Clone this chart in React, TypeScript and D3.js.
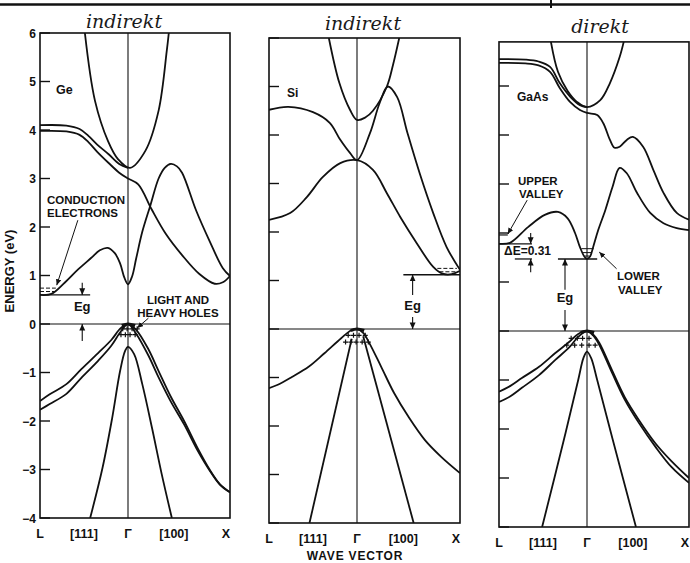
import React from "react";
import * as d3 from "d3";

type Pt = [number, number]; // [k, E]  k: -1 = L, 0 = Γ, 1 = X ; E in eV

const energyTicks = [-4, -3, -2, -1, 0, 1, 2, 3, 4, 5, 6];
const kLabels = ["L", "[111]", "Γ", "[100]", "X"];
const kLabelPos = [-1, -0.5, 0, 0.45, 0.96];

// ---------- Ge ----------
const geGamma2: Pt[] = [[-0.49, 6], [-0.375, 4.6], [-0.227, 3.77], [-0.114, 3.4], [0.02, 3.22], [0.17, 3.57], [0.3, 4.4], [0.38, 5.63], [0.4, 6]];
const geUpperA: Pt[] = [[-1, 4.1], [-0.7, 4.09], [-0.55, 4.02], [-0.45, 3.88], [-0.35, 3.7], [-0.22, 3.5], [-0.1, 3.3], [0, 3.22]];
const geUpperB: Pt[] = [[-1, 3.98], [-0.7, 3.97], [-0.55, 3.9], [-0.45, 3.75], [-0.35, 3.55], [-0.22, 3.32], [-0.1, 3.12], [0, 3.0], [0.1, 2.88], [0.23, 2.37], [0.37, 1.86], [0.53, 1.42], [0.7, 1.03], [0.85, 0.83], [0.93, 0.86], [1, 0.99]];
const geCond: Pt[] = [[-1, 0.6], [-0.87, 0.62], [-0.72, 0.85], [-0.57, 1.12], [-0.42, 1.36], [-0.32, 1.52], [-0.23, 1.57], [-0.15, 1.46], [-0.09, 1.25], [-0.04, 0.95], [0, 0.82], [0.04, 0.98], [0.08, 1.35], [0.14, 1.9], [0.22, 2.45], [0.3, 3.0], [0.36, 3.22], [0.42, 3.3], [0.48, 3.25], [0.53, 3.12], [0.67, 2.33], [0.8, 1.71], [0.93, 1.15], [1, 0.99]];
const geHeavy: Pt[] = [[-1, -1.59], [-0.89, -1.45], [-0.7, -1.24], [-0.53, -0.93], [-0.34, -0.6], [-0.19, -0.33], [-0.08, -0.08], [0, 0], [0.08, -0.12], [0.2, -0.52], [0.3, -0.97], [0.42, -1.5], [0.55, -2.0], [0.68, -2.55], [0.8, -3.0], [0.9, -3.3], [1, -3.47]];
const geLight: Pt[] = [[-1, -1.77], [-0.89, -1.65], [-0.7, -1.44], [-0.53, -1.11], [-0.34, -0.76], [-0.19, -0.45], [-0.08, -0.15], [0, 0], [0.08, -0.2], [0.2, -0.65], [0.3, -1.1], [0.42, -1.6], [0.55, -2.07], [0.68, -2.6], [0.8, -3.02], [0.9, -3.31], [1, -3.47]];
const geSplitOff: Pt[] = [[-0.43, -4], [-0.29, -2.97], [-0.18, -1.94], [-0.09, -0.97], [-0.034, -0.56], [0, -0.47], [0.06, -0.62], [0.14, -1.24], [0.235, -2.14], [0.33, -3.09], [0.43, -4]];
const geHoles: Pt[] = [[-0.06, -0.1], [-0.01, -0.1], [0.04, -0.1], [0.09, -0.1], [-0.08, -0.22], [-0.03, -0.22], [0.02, -0.22], [0.07, -0.22]];

// ---------- Si ----------
const siGamma15: Pt[] = [[-0.32, 6], [-0.2, 5.07], [-0.08, 4.52], [0, 4.31], [0.08, 4.36], [0.155, 4.5], [0.29, 5.0], [0.35, 5.45], [0.41, 6]];
const siUpper: Pt[] = [[-1, 4.52], [-0.78, 4.58], [-0.5, 4.47], [-0.31, 4.25], [-0.19, 3.9], [-0.08, 3.63], [0, 3.48], [0.126, 4.04], [0.22, 4.66], [0.3, 5.0], [0.39, 4.78], [0.49, 4.04], [0.61, 3.2], [0.74, 2.39], [0.87, 1.69], [1, 1.22]];
const siLower: Pt[] = [[-1, 2.25], [-0.76, 2.39], [-0.57, 2.72], [-0.39, 3.13], [-0.19, 3.42], [0, 3.48], [0.155, 3.28], [0.29, 2.8], [0.42, 2.31], [0.58, 1.77], [0.74, 1.28], [0.83, 1.14], [0.92, 1.13], [1, 1.2]];
const siHeavy: Pt[] = [[-1, -1.22], [-0.9, -1.15], [-0.74, -0.99], [-0.55, -0.78], [-0.37, -0.5], [-0.18, -0.19], [-0.07, -0.03], [0, 0], [0.06, -0.08], [0.12, -0.29], [0.235, -0.78], [0.36, -1.32], [0.5, -1.81], [0.66, -2.29], [0.82, -2.64], [1, -2.97]];
const siLightLeft: Pt[] = [[-0.06, -0.2], [-0.54, -4]];
const siLightRight: Pt[] = [[0.06, -0.15], [0.55, -4]];
const siHoles: Pt[] = [[-0.1, -0.13], [-0.04, -0.13], [0.02, -0.13], [0.08, -0.13], [-0.13, -0.27], [-0.07, -0.27], [-0.01, -0.27], [0.05, -0.27], [0.11, -0.27]];

// ---------- GaAs ----------
const gaasGamma: Pt[] = [[-0.41, 5.9], [-0.33, 5.29], [-0.22, 4.9], [-0.11, 4.67], [0, 4.57], [0.13, 4.71], [0.225, 5.06], [0.32, 5.59], [0.36, 5.9]];
const gaasUpperA: Pt[] = [[-1, 5.55], [-0.7, 5.54], [-0.55, 5.5], [-0.42, 5.39], [-0.31, 5.06], [-0.19, 4.78], [-0.08, 4.61], [0, 4.57]];
const gaasUpperB: Pt[] = [[-1, 5.47], [-0.7, 5.46], [-0.55, 5.42], [-0.42, 5.29], [-0.31, 4.96], [-0.19, 4.67], [-0.08, 4.51], [0, 4.45], [0.1, 4.41], [0.16, 4.24], [0.225, 3.9], [0.27, 3.74], [0.32, 3.76], [0.39, 3.9], [0.45, 3.96], [0.55, 3.76], [0.65, 3.29], [0.75, 2.82], [0.88, 2.41], [1, 2.27]];
const gaasCond: Pt[] = [[-1, 1.78], [-0.875, 1.8], [-0.67, 2.12], [-0.48, 2.37], [-0.33, 2.43], [-0.22, 2.3], [-0.136, 2.0], [-0.08, 1.71], [-0.03, 1.52], [0, 1.47], [0.03, 1.52], [0.06, 1.71], [0.11, 2.06], [0.18, 2.47], [0.25, 2.94], [0.32, 3.33], [0.39, 3.22], [0.49, 2.82], [0.62, 2.41], [0.75, 2.2], [0.88, 2.1], [1, 2.06]];
const gaasHeavy: Pt[] = [[-1, -1.24], [-0.87, -1.12], [-0.74, -0.96], [-0.545, -0.73], [-0.36, -0.45], [-0.2, -0.22], [-0.1, -0.06], [0, 0], [0.06, -0.07], [0.12, -0.24], [0.245, -0.8], [0.37, -1.35], [0.51, -1.82], [0.67, -2.29], [0.83, -2.66], [1, -3.0]];
const gaasLight: Pt[] = [[-1, -1.45], [-0.87, -1.33], [-0.74, -1.16], [-0.545, -0.9], [-0.36, -0.59], [-0.2, -0.33], [-0.1, -0.12], [0, 0], [0.06, -0.09], [0.12, -0.28], [0.245, -0.85], [0.37, -1.4], [0.51, -1.88], [0.67, -2.36], [0.83, -2.78], [1, -3.1]];
const gaasSplitOff: Pt[] = [[-0.51, -4], [-0.26, -2.2], [-0.1, -1.0], [-0.04, -0.55], [0, -0.42], [0.04, -0.55], [0.1, -1.0], [0.25, -2.2], [0.48, -4]];
const gaasHoles: Pt[] = [[-0.18, -0.15], [-0.11, -0.15], [-0.05, -0.15], [0.02, -0.15], [-0.23, -0.29], [-0.14, -0.29], [-0.06, -0.29], [0.02, -0.29], [0.08, -0.29]];

const panels = [
  { id: "ge", x: [40, 128, 230], y: [518, 33], top: 6, note: "indirekt", noteX: 124, noteY: 28,
    bands: [geGamma2, geUpperA, geUpperB, geCond, geHeavy, geLight, geSplitOff], holes: geHoles, numbers: true },
  { id: "si", x: [269, 357, 460], y: [523, 38], top: 6, note: "indirekt", noteX: 363, noteY: 30,
    bands: [siGamma15, siUpper, siLower, siHeavy, siLightLeft, siLightRight], holes: siHoles, numbers: false },
  { id: "gaas", x: [499, 587, 689], y: [527, 37], top: 5.9, note: "direkt", noteX: 600, noteY: 33,
    bands: [gaasGamma, gaasUpperA, gaasUpperB, gaasCond, gaasHeavy, gaasLight, gaasSplitOff], holes: gaasHoles, numbers: false },
];

const FONT = "'Liberation Sans', Arial, sans-serif";

const Arrow = ({ x, y1, y2 }: { x: number; y1: number; y2: number }) => (
  <line x1={x} x2={x} y1={y1} y2={y2} stroke="#111" strokeWidth={1.1} markerEnd="url(#ah)" />
);

const Panel = ({ p }: { p: (typeof panels)[number] }) => {
  const xs = d3.scaleLinear().domain([-1, 0, 1]).range(p.x);
  const ys = d3.scaleLinear().domain([-4, 6]).range(p.y);
  const line = d3.line<Pt>().x((d) => xs(d[0])).y((d) => ys(d[1])).curve(d3.curveCatmullRom.alpha(0.5));
  const x0 = xs(-1), x1 = xs(1), yTop = ys(p.top), yBot = ys(-4);
  const clipId = `clip-${p.id}`;
  return (
    <g>
      <clipPath id={clipId}>
        <rect x={x0} y={yTop} width={x1 - x0} height={yBot - yTop} />
      </clipPath>
      <text x={p.noteX} y={p.noteY} textAnchor="middle" fontFamily="'DejaVu Serif', serif" fontStyle="italic" fontSize={19} fill="#1a1a1a">{p.note}</text>
      <rect x={x0} y={yTop} width={x1 - x0} height={yBot - yTop} fill="none" stroke="#111" strokeWidth={1.6} />
      <line x1={xs(0)} x2={xs(0)} y1={yTop} y2={yBot} stroke="#111" strokeWidth={1.1} />
      <line x1={x0} x2={x1} y1={ys(0)} y2={ys(0)} stroke="#111" strokeWidth={1.2} />
      {energyTicks.filter((e) => e <= p.top).map((e) => (
        <line key={e} x1={x0} x2={x0 + 10} y1={ys(e)} y2={ys(e)} stroke="#111" strokeWidth={1.4} />
      ))}
      {p.numbers && energyTicks.map((e) => (
        <text key={"n" + e} x={x0 - 4} y={ys(e) + 4.5} textAnchor="end" fontFamily={FONT} fontWeight="bold" fontSize={12} fill="#111">
          {e < 0 ? `−${-e}` : e}
        </text>
      ))}
      <g clipPath={`url(#${clipId})`} fill="none" stroke="#111" strokeWidth={1.8}>
        {p.bands.map((b, i) => <path key={i} d={line(b) ?? ""} />)}
        <path d={line([[-0.07, -0.03], [0, 0], [0.07, -0.03]]) ?? ""} strokeWidth={3.2} />
      </g>
      <g stroke="#111" strokeWidth={1.2}>
        {p.holes.map((h, i) => {
          const cx = xs(h[0]), cy = ys(h[1]);
          return <path key={i} d={`M${cx - 2.5},${cy}h5M${cx},${cy - 2.5}v5`} />;
        })}
      </g>
      {kLabels.map((t, i) => (
        <text key={t} x={xs(kLabelPos[i])} y={yBot + 20} textAnchor="middle" fontFamily={FONT} fontWeight="bold" fontSize={12.5} fill="#111">{t}</text>
      ))}
    </g>
  );
};

export default function App() {
  const [ge, si, gaas] = panels.map((p) => ({
    xs: d3.scaleLinear().domain([-1, 0, 1]).range(p.x),
    ys: d3.scaleLinear().domain([-4, 6]).range(p.y),
  }));
  const txt = { fontFamily: FONT, fontWeight: "bold" as const, fontSize: 11.5, fill: "#111" };
  return (
    <svg width={690} height={563} style={{ position: "absolute", left: 0, top: 0, background: "#fff" }}>
      <defs>
        <marker id="ah" viewBox="0 0 10 10" refX="10" refY="5" markerWidth="6" markerHeight="6" orient="auto">
          <path d="M0,0.5 L10,5 L0,9.5 z" fill="#111" />
        </marker>
      </defs>
      <rect width={690} height={563} fill="#fff" />
      <line x1={0} x2={690} y1={4.5} y2={4.5} stroke="#111" strokeWidth={2.5} />
      <line x1={551} x2={551} y1={0} y2={8} stroke="#111" strokeWidth={2} />

      {panels.map((p) => <Panel key={p.id} p={p} />)}

      {/* Ge annotations */}
      <text x={56} y={94} {...txt} fontSize={12.5}>Ge</text>
      <text x={47} y={204} {...txt}>CONDUCTION</text>
      <text x={47} y={217} {...txt}>ELECTRONS</text>
      <line x1={ge.xs(-0.57)} y1={ge.ys(2.14)} x2={ge.xs(-0.81)} y2={ge.ys(0.8)} stroke="#111" strokeWidth={1} markerEnd="url(#ah)" />
      <line x1={ge.xs(-1)} x2={ge.xs(-0.43)} y1={ge.ys(0.6)} y2={ge.ys(0.6)} stroke="#111" strokeWidth={1.4} />
      <line x1={ge.xs(-1)} x2={ge.xs(-0.82)} y1={ge.ys(0.74)} y2={ge.ys(0.74)} stroke="#111" strokeWidth={1} strokeDasharray="4,2" />
      <line x1={ge.xs(-1)} x2={ge.xs(-0.82)} y1={ge.ys(0.67)} y2={ge.ys(0.67)} stroke="#111" strokeWidth={1} strokeDasharray="4,2" />
      <Arrow x={ge.xs(-0.52)} y1={ge.ys(0.85)} y2={ge.ys(0.6)} />
      <Arrow x={ge.xs(-0.52)} y1={ge.ys(-0.35)} y2={ge.ys(0)} />
      <text x={ge.xs(-0.52)} y={ge.ys(0.26)} textAnchor="middle" {...txt} fontSize={13}>Eg</text>
      <text x={178} y={304} textAnchor="middle" {...txt}>LIGHT AND</text>
      <text x={178} y={317} textAnchor="middle" {...txt}>HEAVY HOLES</text>
      <line x1={ge.xs(0.2)} y1={ge.ys(0.12)} x2={ge.xs(0.09)} y2={ge.ys(-0.08)} stroke="#111" strokeWidth={1} markerEnd="url(#ah)" />

      {/* Si annotations */}
      <text x={287} y={97} {...txt} fontSize={12}>Si</text>
      <line x1={si.xs(0.45)} x2={si.xs(1)} y1={si.ys(1.12)} y2={si.ys(1.12)} stroke="#111" strokeWidth={1.4} />
      <line x1={si.xs(0.78)} x2={si.xs(0.97)} y1={si.ys(1.25)} y2={si.ys(1.25)} stroke="#111" strokeWidth={1} strokeDasharray="4,2" />
      <line x1={si.xs(0.8)} x2={si.xs(0.97)} y1={si.ys(1.18)} y2={si.ys(1.18)} stroke="#111" strokeWidth={1} strokeDasharray="4,2" />
      <Arrow x={si.xs(0.54)} y1={si.ys(0.7)} y2={si.ys(1.12)} />
      <Arrow x={si.xs(0.54)} y1={si.ys(0.25)} y2={si.ys(0)} />
      <text x={si.xs(0.54)} y={si.ys(0.39)} textAnchor="middle" {...txt} fontSize={13}>Eg</text>

      {/* GaAs annotations */}
      <text x={517} y={101} {...txt} fontSize={12}>GaAs</text>
      <text x={518} y={185} {...txt}>UPPER</text>
      <text x={519} y={198} {...txt}>VALLEY</text>
      <line x1={gaas.xs(-0.68)} y1={gaas.ys(2.67)} x2={gaas.xs(-0.9)} y2={gaas.ys(1.98)} stroke="#111" strokeWidth={1} markerEnd="url(#ah)" />
      <line x1={gaas.xs(-1)} x2={gaas.xs(-0.9)} y1={gaas.ys(1.96)} y2={gaas.ys(1.96)} stroke="#111" strokeWidth={1.2} />
      <line x1={gaas.xs(-1)} x2={gaas.xs(-0.625)} y1={gaas.ys(1.78)} y2={gaas.ys(1.78)} stroke="#111" strokeWidth={1.3} />
      <line x1={gaas.xs(-0.82)} x2={gaas.xs(-0.625)} y1={gaas.ys(1.47)} y2={gaas.ys(1.47)} stroke="#111" strokeWidth={1.3} />
      <Arrow x={gaas.xs(-0.64)} y1={gaas.ys(2.0)} y2={gaas.ys(1.78)} />
      <Arrow x={gaas.xs(-0.64)} y1={gaas.ys(1.2)} y2={gaas.ys(1.47)} />
      <text x={504} y={255} {...txt} fontSize={12}>ΔE=0.31</text>
      <line x1={gaas.xs(-0.33)} x2={gaas.xs(0.1)} y1={gaas.ys(1.47)} y2={gaas.ys(1.47)} stroke="#111" strokeWidth={1.4} />
      <line x1={gaas.xs(-0.065)} x2={gaas.xs(0.065)} y1={gaas.ys(1.68)} y2={gaas.ys(1.68)} stroke="#111" strokeWidth={1} />
      <line x1={gaas.xs(-0.045)} x2={gaas.xs(0.045)} y1={gaas.ys(1.6)} y2={gaas.ys(1.6)} stroke="#111" strokeWidth={1} />
      <line x1={gaas.xs(-0.025)} x2={gaas.xs(0.025)} y1={gaas.ys(1.53)} y2={gaas.ys(1.53)} stroke="#111" strokeWidth={1} />
      <Arrow x={gaas.xs(-0.25)} y1={gaas.ys(0.84)} y2={gaas.ys(1.47)} />
      <Arrow x={gaas.xs(-0.25)} y1={gaas.ys(0.43)} y2={gaas.ys(0)} />
      <text x={gaas.xs(-0.25)} y={gaas.ys(0.59)} textAnchor="middle" {...txt} fontSize={13}>Eg</text>
      <text x={617} y={280} {...txt}>LOWER</text>
      <text x={618} y={294} {...txt}>VALLEY</text>
      <line x1={gaas.xs(0.29)} y1={gaas.ys(1.27)} x2={gaas.xs(0.12)} y2={gaas.ys(1.61)} stroke="#111" strokeWidth={1} markerEnd="url(#ah)" />

      {/* axis titles */}
      <text transform="translate(14,271) rotate(-90)" textAnchor="middle" {...txt} fontSize={13}>ENERGY (eV)</text>
      <text x={355} y={560} textAnchor="middle" {...txt} fontSize={12} letterSpacing={0.8}>WAVE VECTOR</text>
    </svg>
  );
}
